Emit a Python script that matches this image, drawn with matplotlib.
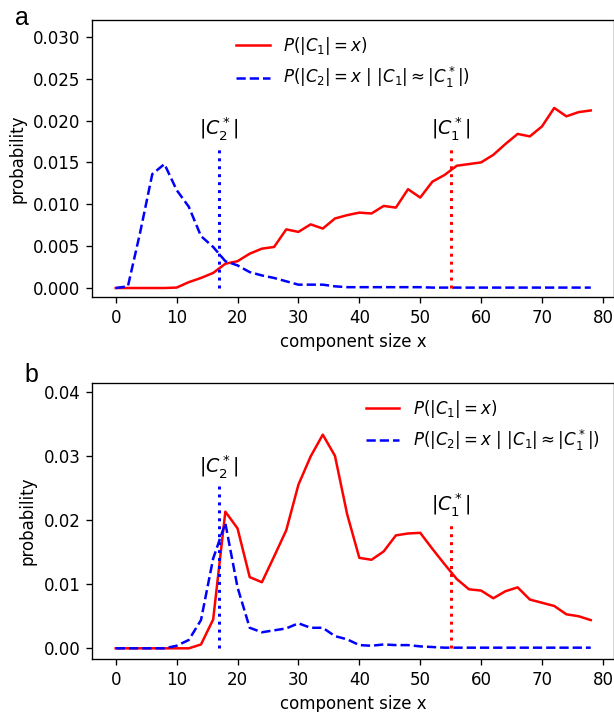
import numpy as np
import matplotlib
matplotlib.use('Agg')
import matplotlib.pyplot as plt

x = np.arange(0, 80, 2)

# panel a
red_a = [0, 0, 0, 0, 0, 0.00005, 0.0007, 0.0012, 0.0018, 0.0029,
         0.0032, 0.0041, 0.0047, 0.0049, 0.0070, 0.0067, 0.0076, 0.0071, 0.0083, 0.0087,
         0.0090, 0.0089, 0.0098, 0.0096, 0.0118, 0.0108, 0.0127, 0.0135, 0.0146, 0.0148,
         0.0150, 0.0159, 0.0172, 0.0184, 0.0181, 0.0193, 0.0215, 0.0205, 0.0210, 0.0212]
blue_a = [0, 0.0002, 0.0066, 0.0136, 0.0148, 0.0117, 0.0097, 0.0062, 0.0049, 0.0032,
          0.0027, 0.0019, 0.0015, 0.0012, 0.0008, 0.0004, 0.0004, 0.0004, 0.0002, 0.0001,
          0.0001, 0.0001, 0.0001, 0.0001, 0.0001, 0.0001, 0.00005, 0.00005, 0.00005, 0.00005,
          0.00005, 0.00005, 0.00005, 0.00005, 0.00005, 0.00005, 0.00005, 0.00005, 0.00005, 0.00005]

# panel b
red_b = [0, 0, 0, 0, 0, 0, 0, 0.0006, 0.0045, 0.0213,
         0.0187, 0.0111, 0.0103, 0.0143, 0.0184, 0.0255, 0.0299, 0.0333, 0.0300, 0.0209,
         0.0141, 0.0138, 0.0151, 0.0176, 0.0179, 0.0180, 0.0155, 0.0131, 0.0108, 0.0092,
         0.0090, 0.0078, 0.0089, 0.0095, 0.0076, 0.0071, 0.0066, 0.0053, 0.0050, 0.0044]
blue_b = [0, 0, 0, 0, 0, 0.0004, 0.0013, 0.0044, 0.0140, 0.0195,
          0.0095, 0.0032, 0.0025, 0.0028, 0.0031, 0.0039, 0.0032, 0.0032, 0.0019, 0.0014,
          0.0005, 0.0004, 0.0006, 0.0005, 0.0005, 0.0003, 0.0002, 0.0001, 0.0001, 0.0001,
          0.0001, 0.0001, 0.0001, 0.0001, 0.0001, 0.0001, 0.0001, 0.0001, 0.0001, 0.0001]

c2_star = 17
c1_star = 55

lab1 = r'$P(|C_1|=x)$'
lab2 = r'$P(|C_2|=x\ |\ |C_1|\approx|C_1^*|)$'

fig = plt.figure(figsize=(614/120, 712/120), dpi=120)
axa = fig.add_axes([0.1498, 0.5829, 0.851, 0.389])
axb = fig.add_axes([0.1498, 0.0744, 0.851, 0.3881])

# a
axa.plot(x, red_a, 'r-', label=lab1)
axa.plot(x, blue_a, 'b--', label=lab2)
axa.vlines(c2_star, 0, 0.0167, colors='b', linestyles=':', lw=1.8)
axa.vlines(c1_star, 0, 0.0167, colors='r', linestyles=':', lw=1.8)
axa.text(c2_star, 0.0174, r'$|C_2^*|$', ha='center', va='bottom', fontsize=11.5)
axa.text(c1_star, 0.0174, r'$|C_1^*|$', ha='center', va='bottom', fontsize=11.5)
axa.set_xlim(-3.9, 81.9)
axa.set_ylim(-0.00107, 0.032)
axa.set_yticks(np.arange(0, 0.031, 0.005))
axa.set_xticks(np.arange(0, 81, 10))
axa.set_xlabel('component size x')
axa.set_ylabel('probability')
axa.legend(loc='upper center', frameon=False)

# b
axb.plot(x, red_b, 'r-', label=lab1)
axb.plot(x, blue_b, 'b--', label=lab2)
axb.vlines(c2_star, 0, 0.0256, colors='b', linestyles=':', lw=1.8)
axb.vlines(c1_star, 0, 0.0197, colors='r', linestyles=':', lw=1.8)
axb.text(c2_star, 0.0262, r'$|C_2^*|$', ha='center', va='bottom', fontsize=11.5)
axb.text(c1_star, 0.0203, r'$|C_1^*|$', ha='center', va='bottom', fontsize=11.5)
axb.set_xlim(-3.9, 81.9)
axb.set_ylim(-0.00167, 0.0414)
axb.set_yticks(np.arange(0, 0.041, 0.01))
axb.set_xticks(np.arange(0, 81, 10))
axb.set_xlabel('component size x')
axb.set_ylabel('probability')
axb.legend(loc='upper right', frameon=False)

fig.text(15/614, 1 - 25/712, 'a', fontsize=15, family='Liberation Sans')
fig.text(24/614, 1 - 382/712, 'b', fontsize=15, family='Liberation Sans')

fig.savefig('out.png', dpi=120)
